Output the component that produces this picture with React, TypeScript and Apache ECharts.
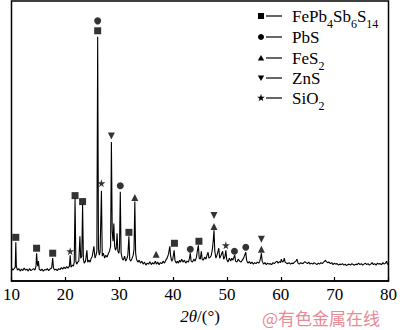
import React, { useEffect, useRef } from "react";
import * as echarts from "echarts";

// XRD pattern: [2θ (°), intensity (counts)]
const pattern: number[][] = [
  [10.0, 130], [10.25, 110], [10.5, 125], [10.7, 140], [10.8, 390], [10.9, 150], [11.1, 110], [11.35, 125],
  [11.6, 100], [11.85, 120], [12.1, 105], [12.35, 130], [12.6, 110], [12.85, 120], [13.1, 100], [13.35, 125],
  [13.6, 105], [13.85, 115], [14.1, 125], [14.35, 110], [14.55, 150], [14.66, 280], [14.8, 170], [14.9, 150],
  [15.0, 200], [15.15, 120], [15.4, 105], [15.65, 120], [15.9, 100], [16.15, 115], [16.4, 110], [16.65, 125],
  [16.9, 105], [17.15, 120], [17.45, 130], [17.65, 230], [17.8, 130], [18.0, 110], [18.25, 120], [18.5, 105],
  [18.75, 125], [19.0, 115], [19.25, 135], [19.5, 120], [19.75, 140], [20.0, 125], [20.25, 145], [20.5, 130],
  [20.75, 150], [20.9, 260], [21.05, 140], [21.3, 160], [21.5, 150], [21.65, 190], [21.8, 830], [21.95, 200],
  [22.1, 170], [22.3, 190], [22.5, 200], [22.7, 450], [22.85, 230], [23.05, 250], [23.2, 770], [23.35, 220],
  [23.5, 180], [23.75, 200], [24.0, 310], [24.15, 190], [24.4, 210], [24.6, 190], [24.8, 230], [25.0, 250],
  [25.3, 350], [25.5, 230], [25.7, 260], [25.85, 300], [26.0, 2460], [26.15, 320], [26.3, 260], [26.45, 290],
  [26.7, 910], [26.85, 250], [27.05, 280], [27.3, 230], [27.5, 260], [27.75, 240], [28.0, 280], [28.2, 300],
  [28.4, 350], [28.55, 1400], [28.7, 500], [28.85, 400], [29.0, 580], [29.15, 350], [29.3, 310], [29.45, 330],
  [29.6, 480], [29.75, 300], [29.95, 280], [30.05, 330], [30.2, 900], [30.35, 280], [30.55, 230], [30.75, 210],
  [31.0, 250], [31.2, 200], [31.45, 230], [31.6, 260], [31.8, 450], [31.95, 220], [32.15, 200], [32.4, 230],
  [32.6, 260], [32.75, 320], [32.9, 800], [33.05, 280], [33.2, 220], [33.45, 190], [33.7, 210], [33.95, 180],
  [34.2, 200], [34.45, 170], [34.7, 190], [34.95, 160], [35.2, 180], [35.45, 170], [35.7, 195], [35.95, 165],
  [36.2, 185], [36.45, 170], [36.7, 200], [36.9, 170], [37.15, 190], [37.4, 165], [37.65, 185], [37.9, 175],
  [38.15, 200], [38.4, 180], [38.65, 210], [38.9, 230], [39.15, 270], [39.4, 350], [39.55, 250], [39.75, 200],
  [39.95, 220], [40.2, 310], [40.35, 210], [40.6, 180], [40.8, 200], [41.0, 180], [41.2, 210], [41.4, 190],
  [41.6, 220], [41.85, 190], [42.1, 210], [42.35, 180], [42.6, 200], [42.85, 190], [43.05, 230], [43.2, 280],
  [43.35, 200], [43.6, 190], [43.85, 220], [44.1, 200], [44.35, 240], [44.5, 300], [44.7, 360], [44.85, 230],
  [45.05, 220], [45.25, 300], [45.4, 220], [45.6, 210], [45.85, 240], [46.1, 220], [46.3, 260], [46.5, 290],
  [46.65, 230], [46.9, 240], [47.1, 260], [47.3, 320], [47.45, 400], [47.6, 510], [47.75, 300], [47.95, 230],
  [48.15, 260], [48.35, 300], [48.5, 330], [48.65, 230], [48.85, 250], [49.05, 280], [49.2, 300], [49.4, 220],
  [49.65, 250], [49.8, 310], [49.95, 220], [50.2, 190], [50.45, 230], [50.7, 200], [50.9, 230], [51.1, 210],
  [51.3, 240], [51.45, 260], [51.6, 200], [51.85, 190], [52.1, 220], [52.35, 200], [52.6, 190], [52.85, 210],
  [53.1, 230], [53.3, 260], [53.5, 290], [53.65, 210], [53.9, 180], [54.15, 195], [54.4, 175], [54.65, 190],
  [54.9, 170], [55.15, 185], [55.4, 175], [55.65, 190], [55.9, 180], [56.1, 200], [56.25, 230], [56.4, 280],
  [56.55, 200], [56.8, 170], [57.05, 185], [57.3, 165], [57.55, 180], [57.8, 170], [58.05, 175], [58.3, 165],
  [58.55, 185], [58.8, 175], [59.05, 190], [59.3, 200], [59.5, 180], [59.75, 195], [59.95, 185], [60.1, 220],
  [60.3, 190], [60.5, 200], [60.65, 230], [60.8, 190], [61.05, 180], [61.3, 175], [61.55, 185], [61.8, 170],
  [62.05, 180], [62.3, 175], [62.55, 190], [62.8, 200], [63.0, 220], [63.2, 180], [63.45, 170], [63.7, 185],
  [63.95, 175], [64.2, 180], [64.45, 195], [64.7, 185], [64.95, 175], [65.2, 190], [65.45, 170], [65.7, 180],
  [65.95, 170], [66.2, 185], [66.45, 175], [66.7, 165], [66.95, 180], [67.2, 170], [67.45, 185], [67.7, 175],
  [67.95, 190], [68.15, 200], [68.3, 210], [68.45, 195], [68.7, 185], [68.95, 190], [69.2, 175], [69.45, 185],
  [69.7, 165], [69.95, 180], [70.2, 170], [70.45, 175], [70.7, 160], [70.95, 170], [71.2, 165], [71.45, 175],
  [71.7, 160], [71.95, 170], [72.2, 155], [72.45, 165], [72.7, 170], [72.95, 160], [73.2, 175], [73.45, 165],
  [73.7, 160], [73.95, 170], [74.2, 165], [74.45, 180], [74.7, 165], [74.95, 175], [75.2, 160], [75.45, 170],
  [75.7, 180], [75.95, 165], [76.2, 175], [76.45, 160], [76.7, 170], [76.95, 185], [77.2, 165], [77.45, 175],
  [77.7, 160], [77.95, 180], [78.2, 170], [78.45, 175], [78.7, 165], [78.95, 185], [79.2, 170], [79.45, 180],
  [79.65, 200], [79.8, 170], [80.0, 165],
];

// phase markers: [2θ, marker height]
const markFePbSbS: number[][] = [
  [10.8, 440], [14.66, 330], [17.65, 280], [21.8, 860], [23.2, 800], [26.0, 2520], [31.8, 490], [40.25, 380], [44.8, 400],
];
const markPbS: number[][] = [[26.0, 2620], [30.2, 960], [43.2, 320], [51.4, 300], [53.5, 340]];
const markFeS2: number[][] = [[32.9, 840], [36.85, 270], [47.6, 550], [56.4, 320]];
const markZnS: number[][] = [[28.55, 1460], [47.6, 660], [56.4, 420]];
const markSiO2: number[][] = [[20.9, 300], [26.7, 985], [49.8, 360]];

const xTicks = { min: 10, max: 80, interval: 10 };
const legendLabels = [
  "FePb{s|4}Sb{s|6}S{s|14}",
  "PbS",
  "FeS{s|2}",
  "ZnS",
  "SiO{s|2}",
];

const SERIF = '"Liberation Serif", "Times New Roman", serif';
const STAR = "path://M50,0 L61,35 L98,35 L68,57 L79,91 L50,70 L21,91 L32,57 L2,35 L39,35 Z";

export default function App() {
  const ref = useRef<HTMLDivElement>(null);
  useEffect(() => {
    const chart = echarts.init(ref.current!, null, { renderer: "svg" });
    const rowY = [16, 37, 58, 78, 98];
    const mx = 261;
    const legendGraphics: any[] = [];
    legendGraphics.push({ type: "rect", shape: { x: mx - 3, y: rowY[0] - 3, width: 6, height: 6 }, style: { fill: "#000" } });
    legendGraphics.push({ type: "circle", shape: { cx: mx, cy: rowY[1], r: 3 }, style: { fill: "#000" } });
    legendGraphics.push({ type: "polygon", shape: { points: [[mx - 3.2, rowY[2] + 2.6], [mx + 3.2, rowY[2] + 2.6], [mx, rowY[2] - 3]] }, style: { fill: "#000" } });
    legendGraphics.push({ type: "polygon", shape: { points: [[mx - 3.2, rowY[3] - 2.6], [mx + 3.2, rowY[3] - 2.6], [mx, rowY[3] + 3]] }, style: { fill: "#000" } });
    const sy = rowY[4];
    legendGraphics.push({
      type: "polygon",
      shape: {
        points: [
          [mx, sy - 4], [mx + 0.94, sy - 1.29], [mx + 3.8, sy - 1.24], [mx + 1.52, sy + 0.49], [mx + 2.35, sy + 3.24],
          [mx, sy + 1.6], [mx - 2.35, sy + 3.24], [mx - 1.52, sy + 0.49], [mx - 3.8, sy - 1.24], [mx - 0.94, sy - 1.29],
        ],
      },
      style: { fill: "#000" },
    });
    rowY.forEach((y, i) => {
      legendGraphics.push({ type: "line", shape: { x1: 266, y1: y, x2: 282, y2: y }, style: { stroke: "#000", lineWidth: 1.2 } });
      legendGraphics.push({
        type: "text",
        x: 292,
        y: y,
        style: {
          text: legendLabels[i],
          fill: "#000",
          font: `17px ${SERIF}`,
          verticalAlign: "middle",
          rich: {
            s: { fontSize: 12, fontFamily: SERIF, fill: "#000", verticalAlign: "bottom", lineHeight: 12, padding: [0, 0, -5, 0] },
          },
        },
      });
    });
    legendGraphics.push({
      type: "text",
      x: 262,
      y: 317,
      style: {
        text: "@有色金属在线",
        fill: "#e98a94",
        font: '17px "Noto Sans CJK SC", sans-serif',
        verticalAlign: "middle",
      },
    });

    chart.setOption({
      animation: false,
      backgroundColor: "#fff",
      grid: { left: 8, right: 8, top: 1, bottom: 47, show: true, borderColor: "#000", borderWidth: 1.5 },
      xAxis: {
        type: "value",
        min: xTicks.min,
        max: xTicks.max,
        interval: xTicks.interval,
        axisLine: { show: true, lineStyle: { color: "#000", width: 1.5 } },
        axisTick: { show: true, inside: true, length: 4, lineStyle: { color: "#000", width: 1.2 } },
        axisLabel: { color: "#000", fontSize: 17, fontFamily: SERIF, margin: 6, lineHeight: 14 },
        splitLine: { show: false },
        name: "{i|2θ}/(°)",
        nameLocation: "middle",
        nameGap: 27,
        nameTextStyle: {
          color: "#000",
          fontSize: 17,
          fontFamily: SERIF,
          rich: { i: { fontStyle: "italic", fontSize: 17, fontFamily: SERIF, color: "#000" } },
        },
      },
      yAxis: { type: "value", min: 0, max: 2820, show: false, splitLine: { show: false } },
      series: [
        {
          type: "line",
          data: pattern,
          showSymbol: false,
          lineStyle: { color: "#000", width: 1.1 },
          silent: true,
        },
        { type: "scatter", data: markFePbSbS, symbol: "rect", symbolSize: 7, itemStyle: { color: "#000" } },
        { type: "scatter", data: markPbS, symbol: "circle", symbolSize: 7, itemStyle: { color: "#000" } },
        { type: "scatter", data: markFeS2, symbol: "triangle", symbolSize: 7, itemStyle: { color: "#000" } },
        { type: "scatter", data: markZnS, symbol: "triangle", symbolRotate: 180, symbolSize: 7, itemStyle: { color: "#000" } },
        { type: "scatter", data: markSiO2, symbol: STAR, symbolSize: 8, itemStyle: { color: "#000" } },
      ],
      graphic: legendGraphics,
    });
    return () => chart.dispose();
  }, []);
  return <div ref={ref} style={{ position: "fixed", left: 0, top: 0, width: 400, height: 330 }} />;
}
